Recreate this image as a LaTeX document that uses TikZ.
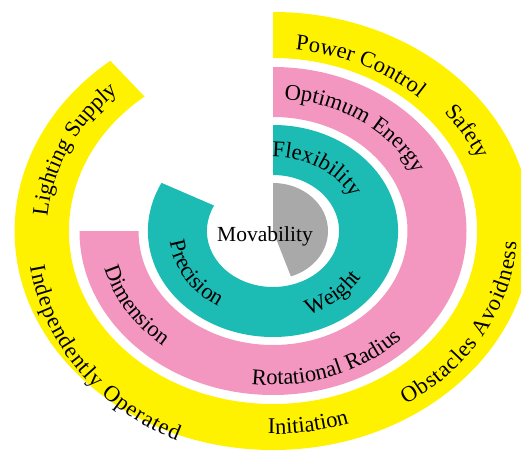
\documentclass[tikz,border=0pt]{standalone}
\usepackage{fontspec}
\setmainfont{Liberation Serif}
\usetikzlibrary{decorations.text}
\definecolor{bandyellow}{HTML}{FFF200}
\definecolor{bandpink}{HTML}{F397C0}
\definecolor{bandteal}{HTML}{1CBBB4}
\definecolor{coregrey}{HTML}{A9A9A9}
\newcommand\lblfont{\fontsize{22.5}{26}\selectfont}
\newcommand\corefont{\fontsize{21.5}{25}\selectfont}
\begin{document}
\begin{tikzpicture}[
    lbl/.style={decorate, decoration={text along path, text align=center, text={|\lblfont|#1}}},
    fitlbl/.style={decorate, decoration={text along path, text align=fit to path, text={|\lblfont|#1}}},
    every node/.style={font=\corefont}]
  \useasboundingbox (-273pt,-221pt) rectangle (248pt,231pt);
  % rings
  \fill[bandyellow] (450:258.4pt and 219pt) arc[start angle=450, end angle=129, x radius=258.4pt, y radius=219pt]
    -- (129:204.1pt and 173pt) arc[start angle=129, end angle=450, x radius=204.1pt, y radius=173pt] -- cycle;
  \fill[bandpink] (450:193.5pt and 164pt) arc[start angle=450, end angle=180, x radius=193.5pt, y radius=164pt]
    -- (180:134.5pt and 114pt) arc[start angle=180, end angle=450, x radius=134.5pt, y radius=114pt] -- cycle;
  \fill[bandteal] (450:125.1pt and 106pt) arc[start angle=450, end angle=153, x radius=125.1pt, y radius=106pt]
    -- (153:66.1pt and 56pt) arc[start angle=153, end angle=450, x radius=66.1pt, y radius=56pt] -- cycle;
  \fill[coregrey] (0,0) -- (90:55pt and 48pt) arc[start angle=90, end angle=-71, x radius=55pt, y radius=48pt] -- cycle;
  \node (mov) at (-8pt,-5pt) {Movability};
  % outer labels
  \path[fitlbl={Power Control}] (84:214pt and 182pt) arc[start angle=84, end angle=47, x radius=214pt, y radius=182pt];
  \path[lbl={Safety}] (60:222pt and 186pt) arc[start angle=60, end angle=0, x radius=222pt, y radius=186pt];
  \path[fitlbl={Obstacles Avoidness}] (-57:244pt and 207pt) arc[start angle=-57, end angle=-3, x radius=244pt, y radius=207pt];
  \path[lbl={Initiation}] (-111:238pt and 203pt) arc[start angle=-111, end angle=-51, x radius=238pt, y radius=203pt];
  \path[fitlbl={Independently Operated}] (189:246pt and 228pt) arc[start angle=189, end angle=247, x radius=246pt, y radius=228pt];
  \path[lbl={Lighting Supply}] (195:226pt and 190pt) arc[start angle=195, end angle=116, x radius=226pt, y radius=190pt];
  % middle labels
  \path[lbl={Optimum Energy}] (95:157pt and 132pt) arc[start angle=95, end angle=15, x radius=157pt, y radius=132pt];
  \path[lbl={Dimension}] (182:174pt and 148pt) arc[start angle=182, end angle=242, x radius=174pt, y radius=148pt];
  \path[lbl={Rotational Radius}] (250:180pt and 154pt) arc[start angle=250, end angle=330, x radius=180pt, y radius=154pt];
  % inner labels
  \path[lbl={Flexibility}] (98:88pt and 74pt) arc[start angle=98, end angle=18, x radius=88pt, y radius=74pt];
  \path[lbl={Weight}] (-85:104pt and 89pt) arc[start angle=-85, end angle=-15, x radius=104pt, y radius=89pt];
  \path[lbl={Precision}] (177:104pt and 89pt) arc[start angle=177, end angle=247, x radius=104pt, y radius=89pt];
\end{tikzpicture}
\end{document}
